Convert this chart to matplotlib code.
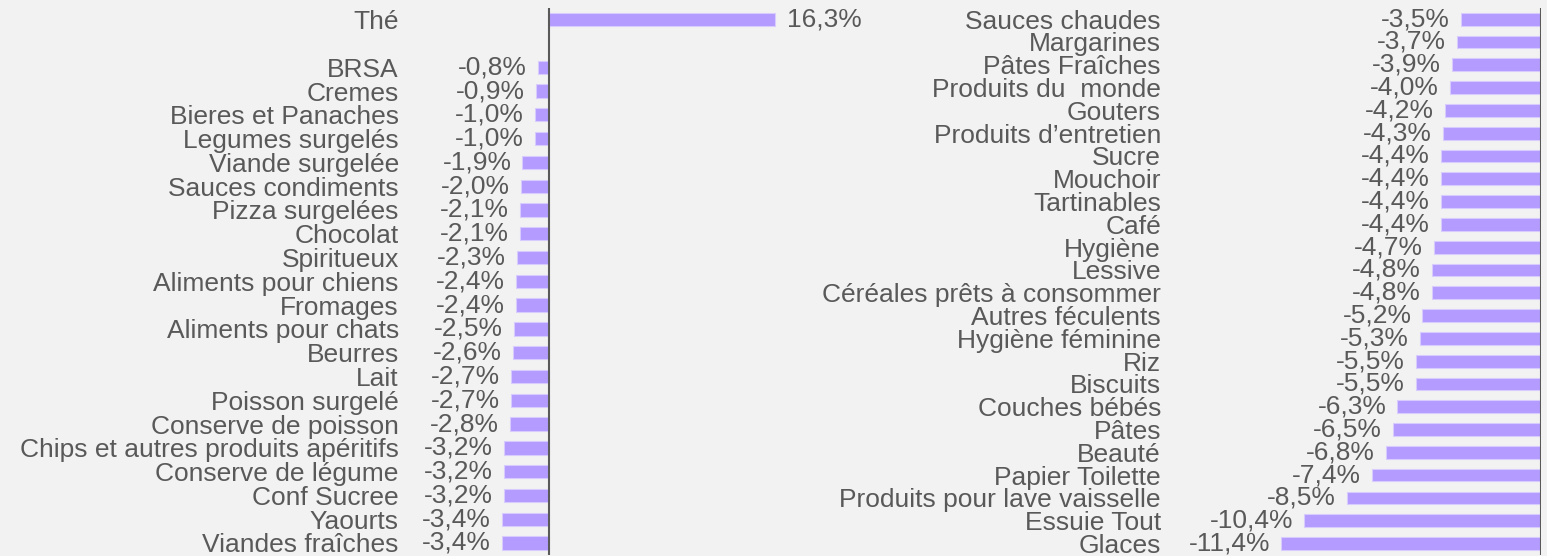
import numpy as np
import matplotlib
matplotlib.use("Agg")
import matplotlib.pyplot as plt

# data (variation in %)
left_cats = ["Thé", "", "BRSA", "Cremes", "Bieres et Panaches", "Legumes surgelés",
             "Viande surgelée", "Sauces condiments", "Pizza surgelées", "Chocolat",
             "Spiritueux", "Aliments pour chiens", "Fromages", "Aliments pour chats",
             "Beurres", "Lait", "Poisson surgelé", "Conserve de poisson",
             "Chips et autres produits apéritifs", "Conserve de légume", "Conf Sucree",
             "Yaourts", "Viandes fraîches"]
left_vals = [16.3, np.nan, -0.8, -0.9, -1.0, -1.0, -1.9, -2.0, -2.1, -2.1, -2.3, -2.4,
             -2.4, -2.5, -2.6, -2.7, -2.7, -2.8, -3.2, -3.2, -3.2, -3.4, -3.4]

right_cats = ["Sauces chaudes", "Margarines", "Pâtes Fraîches", "Produits du  monde",
              "Gouters", "Produits d\u2019entretien", "Sucre", "Mouchoir", "Tartinables",
              "Café", "Hygiène", "Lessive", "Céréales prêts à consommer",
              "Autres féculents", "Hygiène féminine", "Riz", "Biscuits", "Couches bébés",
              "Pâtes", "Beauté", "Papier Toilette", "Produits pour lave vaisselle",
              "Essuie Tout", "Glaces"]
right_vals = [-3.5, -3.7, -3.9, -4.0, -4.2, -4.3, -4.4, -4.4, -4.4, -4.4, -4.7, -4.8,
              -4.8, -5.2, -5.3, -5.5, -5.5, -6.3, -6.5, -6.8, -7.4, -8.5, -10.4, -11.4]

bg = "#f2f2f2"
bar_col = "#b49bff"
txt_col = "#595959"
fs = 19

plt.rcParams['font.family'] = ['Liberation Sans', 'DejaVu Sans']

fig = plt.figure(figsize=(15.47, 5.56), dpi=100, facecolor=bg)


def fmt(v):
    return "{:.1f}%".format(v).replace(".", ",")


def draw_panel(ax, cats, vals, xlim):
    ax.set_facecolor(bg)
    y = np.arange(len(cats))
    vals = np.array(vals, dtype=float)
    ok = ~np.isnan(vals)
    ax.barh(y[ok], vals[ok], height=0.56, color=bar_col, edgecolor="#d8ccff",
            linewidth=0.8)
    for yi, v in zip(y[ok], vals[ok]):
        off = 8 if v > 0 else -8
        ax.annotate(fmt(v), (v, yi), xytext=(off, 0), textcoords="offset points",
                    ha="left" if v > 0 else "right", va="center", fontsize=fs,
                    color=txt_col, annotation_clip=False)
    ax.set_xlim(*xlim)
    ax.set_ylim(len(cats) - 0.5, -0.5)
    ax.set_yticks(y)
    ax.set_yticklabels(cats, fontsize=fs, color=txt_col)
    ax.tick_params(axis="y", length=0, pad=3)
    ax.set_xticks([])
    for s in ax.spines.values():
        s.set_visible(False)
    ax.axvline(0, color="#595959", lw=1.5)


ax1 = fig.add_axes([0.2605, 0.002, 0.256, 0.984])
draw_panel(ax1, left_cats, left_vals, (-10.5, 18))

ax2 = fig.add_axes([0.7531, 0.002, 0.243, 0.984])
draw_panel(ax2, right_cats, right_vals, (-16.5, 0))

fig.savefig("out.png", dpi=100, facecolor=bg)
